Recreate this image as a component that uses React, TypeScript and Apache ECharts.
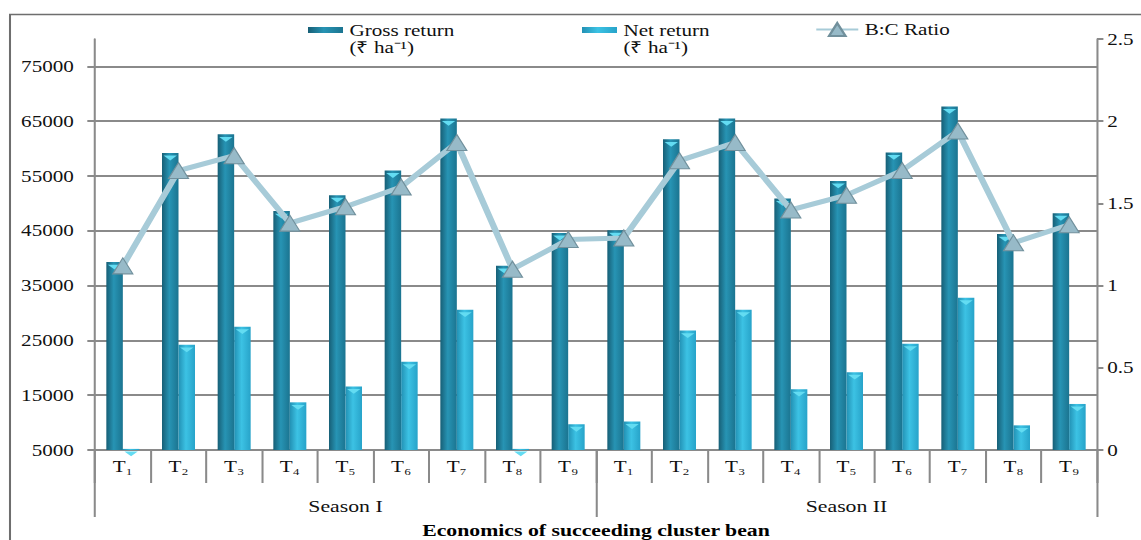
import React, { useEffect, useRef } from "react";
import * as echarts from "echarts";

// ---------- data ----------
const seasons = ["Season I", "Season II"];
const treatments = ["T₁", "T₂", "T₃", "T₄", "T₅", "T₆", "T₇", "T₈", "T₉"];

const grossS1 = [39300, 59200, 62600, 48600, 51500, 56000, 65500, 38600, 44600];
const netS1 = [5200, 24200, 27500, 13700, 16600, 21100, 30600, 5200, 9700];
const bcS1 = [1.12, 1.7, 1.79, 1.38, 1.48, 1.6, 1.87, 1.1, 1.28];

const grossS2 = [45100, 61700, 65500, 50900, 54100, 59300, 67700, 44400, 48200];
const netS2 = [10200, 26800, 30600, 16100, 19200, 24400, 32800, 9500, 13400];
const bcS2 = [1.29, 1.76, 1.87, 1.46, 1.55, 1.7, 1.94, 1.26, 1.37];

const leftTicks = [5000, 15000, 25000, 35000, 45000, 55000, 65000, 75000];
const rightTicks = [0, 0.5, 1, 1.5, 2, 2.5];

const grossName = "Gross return\n(₹ ha⁻¹)";
const netName = "Net return\n(₹ ha⁻¹)";
const bcName = "B:C Ratio";
const chartTitle = "Economics of succeeding cluster bean";

// ---------- layout ----------
const W = 891;
const H = 540;
const SX = 1141 / W; // horizontal stretch of the original picture
const FONT = "Liberation Serif";
const GRAY = "#8a8a8a";
const BAR_W = 16.5 / SX;

const categories = seasons.flatMap((s) => treatments.map((t) => `${s} ${t}`));
const grossAll = [...grossS1, ...grossS2];
const netAll = [...netS1, ...netS2];
const bcAll = [...bcS1, ...bcS2];

export default function App() {
  const ref = useRef<HTMLDivElement>(null);

  useEffect(() => {
    document.body.style.margin = "0";
    document.body.style.overflow = "hidden";
    const chart = echarts.init(ref.current!, null, { renderer: "svg" });

    const grossColor = new echarts.graphic.LinearGradient(0, 0, 1, 0, [
      { offset: 0, color: "#175f76" },
      { offset: 0.45, color: "#2794b4" },
      { offset: 1, color: "#1b7490" },
    ]);
    const netColor = new echarts.graphic.LinearGradient(0, 0, 1, 0, [
      { offset: 0, color: "#2291b4" },
      { offset: 0.45, color: "#3cc2e4" },
      { offset: 1, color: "#27a3c9" },
    ]);

    const legendText = {
      fontFamily: FONT,
      fontSize: 16.5,
      lineHeight: 17,
      color: "#111",
    };

    const capSeries = (data: number[], side: number) => ({
      type: "pictorialBar",
      xAxisIndex: 0,
      yAxisIndex: 0,
      data,
      symbol: "triangle",
      symbolRotate: 180,
      symbolSize: [BAR_W * 0.8, 5],
      symbolPosition: "end",
      symbolOffset: [`${side * 62.5}%`, "50%"],
      itemStyle: { color: "#63dcf2" },
      silent: true,
      z: 3,
    });

    const option: any = {
      animation: false,
      textStyle: { fontFamily: FONT },
      grid: {
        left: 95 / SX,
        right: W - 1097 / SX,
        top: 39,
        bottom: H - 450,
        containLabel: false,
        outerBoundsMode: "none",
      },
      legend: [
        {
          data: [grossName],
          left: 308 / SX,
          top: 4.5,
          padding: 0,
          icon: "rect",
          itemWidth: 35 / SX,
          itemHeight: 6,
          selectedMode: false,
          formatter: (n: string) => "\n" + n,
          textStyle: { ...legendText },
        },
        {
          data: [netName],
          left: 582 / SX,
          top: 4.5,
          padding: 0,
          icon: "rect",
          itemWidth: 35 / SX,
          itemHeight: 6,
          selectedMode: false,
          formatter: (n: string) => "\n" + n,
          textStyle: { ...legendText },
        },
        {
          data: [bcName],
          left: 815 / SX,
          top: 21,
          padding: 0,
          itemWidth: 42 / SX,
          itemHeight: 16,
          selectedMode: false,
          textStyle: { ...legendText },
        },
      ],
      xAxis: [
        {
          type: "category",
          data: categories,
          position: "bottom",
          boundaryGap: true,
          axisLine: { show: true, onZero: false, lineStyle: { color: GRAY, width: 2 } },
          axisTick: { show: true, interval: 0, length: 33, lineStyle: { color: GRAY, width: 1.6 } },
          axisLabel: {
            interval: 0,
            margin: 8,
            fontFamily: FONT,
            fontSize: 16.5,
            color: "#111",
            formatter: (_v: string, i: number) => treatments[i % treatments.length],
          },
          splitLine: { show: false },
        },
        {
          type: "category",
          data: seasons,
          position: "bottom",
          offset: 0,
          boundaryGap: true,
          axisLine: { show: false, onZero: false },
          axisTick: { show: true, interval: 0, length: 67, lineStyle: { color: GRAY, width: 1.6 } },
          axisLabel: {
            interval: 0,
            margin: 48,
            fontFamily: FONT,
            fontSize: 17,
            color: "#111",
          },
          splitLine: { show: false },
          name: chartTitle,
          nameLocation: "middle",
          nameGap: 72,
          nameTextStyle: {
            fontFamily: FONT,
            fontSize: 17,
            fontWeight: "bold",
            color: "#000",
          },
        },
      ],
      yAxis: [
        {
          type: "value",
          position: "left",
          min: 5000,
          max: 80000,
          interval: 10000,
          axisLine: { show: true, lineStyle: { color: GRAY, width: 1.6 } },
          axisTick: {
            show: true,
            length: 6,
            customValues: leftTicks,
            lineStyle: { color: GRAY, width: 2 },
          },
          axisLabel: {
            margin: 16.5,
            fontFamily: FONT,
            fontSize: 16.5,
            color: "#111",
            customValues: leftTicks,
            formatter: (v: number) => String(v),
          },
          splitLine: {
            show: true,
            lineStyle: { color: GRAY, width: 2 },
          },
        },
        {
          type: "value",
          position: "right",
          min: 0,
          max: 2.5,
          interval: 0.5,
          axisLine: { show: true, lineStyle: { color: GRAY, width: 1.6 } },
          axisTick: {
            show: true,
            length: 5,
            customValues: rightTicks,
            lineStyle: { color: GRAY, width: 2 },
          },
          axisLabel: {
            margin: 8,
            fontFamily: FONT,
            fontSize: 16.5,
            color: "#111",
            customValues: rightTicks,
            formatter: (v: number) => String(v),
          },
          splitLine: { show: false },
        },
      ],
      graphic: [
        {
          type: "polyline",
          silent: true,
          shape: {
            points: [
              [10 / SX, H + 2],
              [10 / SX, 14.5],
              [W + 5, 14.5],
            ],
          },
          style: { stroke: "#6e6e6e", lineWidth: 1.6, fill: "none" },
        },
      ],
      series: [
        {
          name: grossName,
          type: "bar",
          xAxisIndex: 0,
          yAxisIndex: 0,
          data: grossAll,
          barWidth: BAR_W,
          barGap: "0%",
          itemStyle: { color: grossColor },
          z: 2,
        },
        {
          name: netName,
          type: "bar",
          xAxisIndex: 0,
          yAxisIndex: 0,
          data: netAll,
          barWidth: BAR_W,
          barGap: "0%",
          itemStyle: { color: netColor },
          z: 2,
        },
        capSeries(grossAll, -1),
        capSeries(netAll, 1),
        {
          name: bcName,
          type: "line",
          xAxisIndex: 0,
          yAxisIndex: 1,
          data: bcAll,
          symbol: "triangle",
          symbolSize: [20 / SX, 16],
          lineStyle: { color: "#a7cbd8", width: 5 },
          itemStyle: { color: "#97bac8", borderColor: "#71909c", borderWidth: 1 },
          z: 5,
        },
      ],
    };

    chart.setOption(option);
    return () => chart.dispose();
  }, []);

  return (
    <div
      ref={ref}
      style={{
        position: "absolute",
        left: 0,
        top: 0,
        width: W,
        height: H,
        transform: `scaleX(${SX})`,
        transformOrigin: "0 0",
        background: "#fff",
      }}
    />
  );
}
